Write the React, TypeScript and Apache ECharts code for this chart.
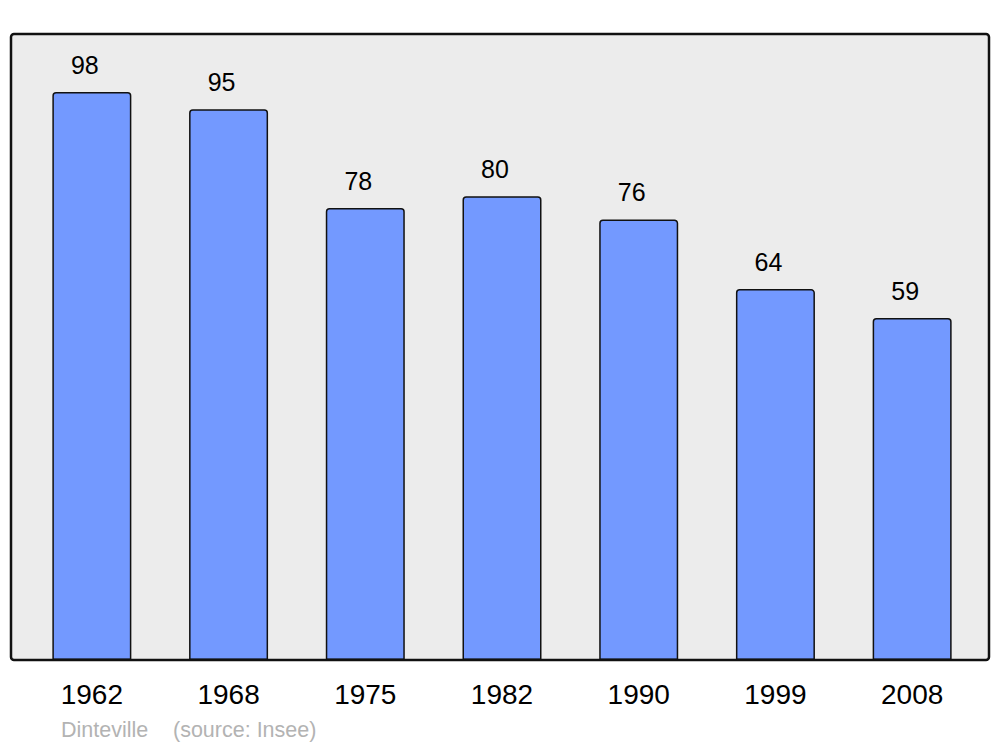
import React, { useEffect, useRef } from "react";
import * as echarts from "echarts";

const years = ["1962", "1968", "1975", "1982", "1990", "1999", "2008"];
const population = [98, 95, 78, 80, 76, 64, 59];
const yMin = 0;
const yMax = 108;
const footerName = "Dinteville";
const footerSource = "(source: Insee)";

export default function App() {
  const ref = useRef<HTMLDivElement>(null);
  useEffect(() => {
    if (!ref.current) return;
    const chart = echarts.init(ref.current, undefined, { renderer: "svg" });
    chart.setOption({
      animation: false,
      backgroundColor: "#ffffff",
      textStyle: { fontFamily: "Liberation Sans, Arial, sans-serif" },
      grid: { left: 23.5, right: 19.5, top: 34, bottom: 87, containLabel: false },
      xAxis: {
        type: "category",
        data: years,
        axisLine: { show: false },
        axisTick: { show: false },
        axisLabel: { color: "#000", fontSize: 28, margin: 20, fontFamily: "Liberation Sans, Arial, sans-serif" },
      },
      yAxis: {
        type: "value",
        min: yMin,
        max: yMax,
        show: false,
        splitLine: { show: false },
      },
      graphic: [
        {
          type: "rect",
          z: -10,
          shape: { x: 11, y: 34, width: 978, height: 626, r: 3 },
          style: { fill: "#ececec", stroke: "none" },
        },
        {
          type: "rect",
          z: 100,
          silent: true,
          shape: { x: 11, y: 34, width: 978, height: 626, r: 3 },
          style: { fill: "none", stroke: "#111111", lineWidth: 2.5 },
        },
        {
          type: "text",
          x: 61,
          y: 730,
          style: {
            text: footerName,
            fill: "#b3b3b3",
            font: "21.5px 'Liberation Sans', Arial, sans-serif",
            verticalAlign: "middle",
          },
        },
        {
          type: "text",
          x: 173,
          y: 730,
          style: {
            text: footerSource,
            fill: "#b3b3b3",
            font: "21.5px 'Liberation Sans', Arial, sans-serif",
            verticalAlign: "middle",
          },
        },
      ],
      series: [
        {
          type: "bar",
          data: population,
          barWidth: 79,
          itemStyle: {
            color: "#7399ff",
            borderColor: "#111111",
            borderWidth: 1.5,
            borderRadius: [3, 3, 0, 0],
          },
          label: {
            show: true,
            position: "top",
            distance: 14.5,
            offset: [-7, 0],
            color: "#000",
            fontSize: 25,
            fontFamily: "Liberation Sans, Arial, sans-serif",
          },
        },
      ],
    });
    return () => chart.dispose();
  }, []);
  return (
    <div
      ref={ref}
      style={{ position: "fixed", left: 0, top: 0, width: 1000, height: 747 }}
    />
  );
}
